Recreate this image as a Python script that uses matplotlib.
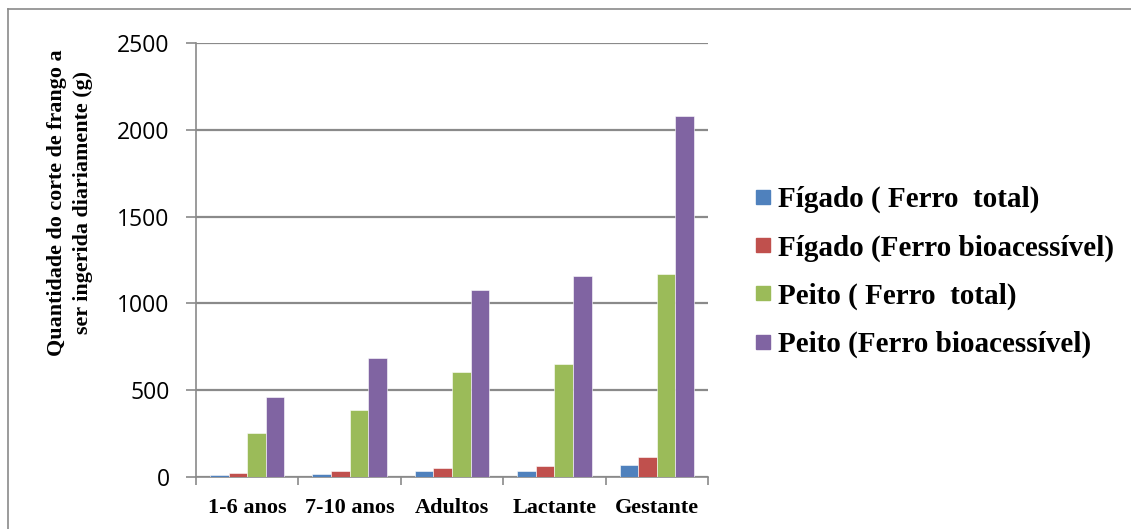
import matplotlib.pyplot as plt
import numpy as np
from matplotlib.lines import Line2D

categories = ["1-6 anos", "7-10 anos", "Adultos", "Lactante", "Gestante"]
series_names = [
    "Fígado ( Ferro  total)",
    "Fígado (Ferro bioacessível)",
    "Peito ( Ferro  total)",
    "Peito (Ferro bioacessível)",
]
figado_total = [12, 19, 33, 37, 67]
figado_bio = [21, 33, 54, 62, 115]
peito_total = [256, 387, 604, 649, 1170]
peito_bio = [458, 688, 1077, 1155, 2078]
colors = ["#4F81BD", "#C0504D", "#9BBB59", "#8064A2"]

SERIF = ["Liberation Serif", "DejaVu Serif"]
GRID = "#8a8a8a"

fig = plt.figure(figsize=(11.31, 5.29), dpi=100)
ax = fig.add_axes([196 / 1131, 52 / 529, 512 / 1131, 434 / 529])

x = np.arange(len(categories))
w = 0.182
for i, (vals, c) in enumerate(zip([figado_total, figado_bio, peito_total, peito_bio], colors)):
    ax.bar(x + (i - 1.5) * w, vals, width=w, color=c, edgecolor="white",
           linewidth=0.4, label=series_names[i], zorder=3)

ax.set_xlim(-0.5, len(categories) - 0.5)
ax.set_ylim(0, 2500)
ax.set_yticks(range(0, 2501, 500))
ax.yaxis.grid(True, color=GRID, linewidth=1.6, zorder=0)
ax.set_axisbelow(True)

for s in ["top", "right"]:
    ax.spines[s].set_visible(False)
for s in ["left", "bottom"]:
    ax.spines[s].set_color(GRID)
    ax.spines[s].set_linewidth(1.2)

ax.tick_params(axis="y", length=7, width=1.2, color=GRID, pad=12,
               labelsize=16.5)
for lab in ax.get_yticklabels():
    lab.set_fontfamily(["Open Sans", "DejaVu Sans"])

ax.set_xticks(x)
ax.set_xticklabels(categories, fontfamily=SERIF, fontweight="bold", fontsize=16)
ax.set_xticks(np.arange(-0.5, len(categories)), minor=True)
ax.tick_params(axis="x", which="major", length=0, pad=15)
ax.tick_params(axis="x", which="minor", length=6, width=1.2, color=GRID)

fig.text(70 / 1131, 1 - 203 / 529,
         "Quantidade do corte de frango a\nser ingerida diariamente (g)",
         rotation=90, ha="center", va="center", fontfamily=SERIF,
         fontweight="bold", fontsize=15.8, linespacing=1.4)

handles = [Line2D([], [], marker="s", linestyle="none", markersize=10,
                  markerfacecolor=c, markeredgecolor=c) for c in colors]
fig.legend(handles, series_names, loc="center left",
           bbox_to_anchor=(744 / 1131, 1 - 272 / 529), frameon=False,
           prop={"family": SERIF, "weight": "bold", "size": 21},
           handlelength=0.5, handletextpad=0.25, labelspacing=0.72,
           borderaxespad=0)

# frame around the chart area
fig.add_artist(Line2D([7.5 / 1131, 7.5 / 1131], [0, 1 - 8.5 / 529],
                      transform=fig.transFigure, color="#8a8a8a", linewidth=1.2))
fig.add_artist(Line2D([7.5 / 1131, 1], [1 - 8.5 / 529, 1 - 8.5 / 529],
                      transform=fig.transFigure, color="#8a8a8a", linewidth=1.2))

fig.savefig("out.png", dpi=100)
